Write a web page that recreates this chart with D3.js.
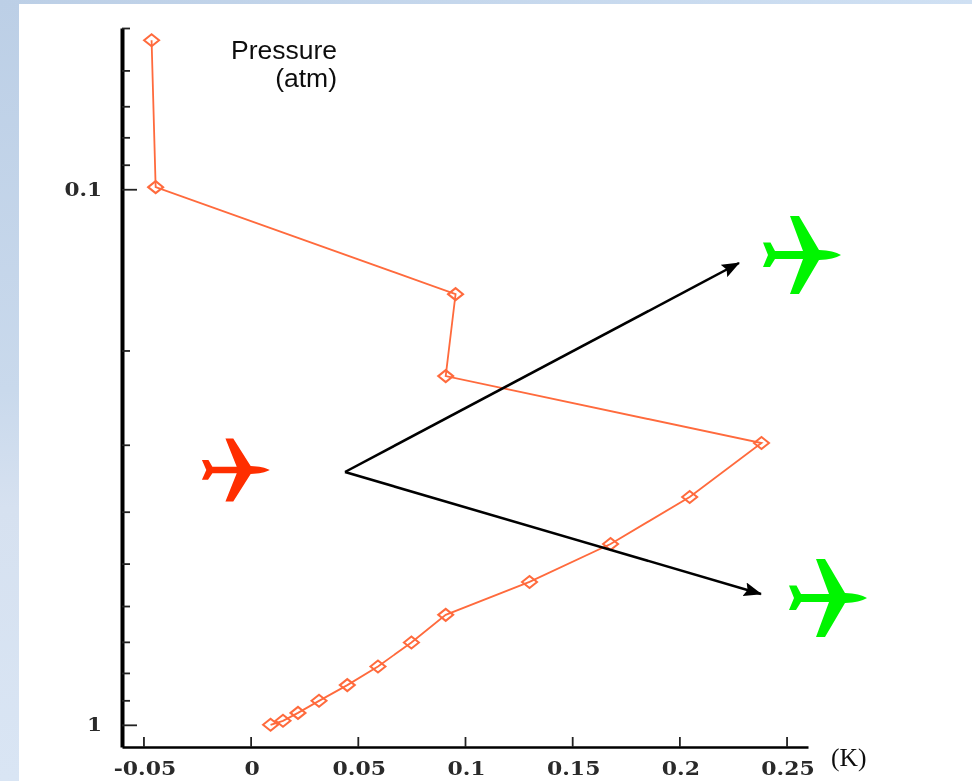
<!DOCTYPE html>
<html>
<head>
<meta charset="utf-8">
<script src="https://cdnjs.cloudflare.com/ajax/libs/d3/7.8.5/d3.min.js"></script>
<style>
  html, body { margin: 0; padding: 0; background: #fff; overflow: hidden; }
  svg { display: block; }
</style>
</head>
<body>
<script>
// temperature difference (K) against pressure (atm)
const temperature = [-0.0462, -0.0443, 0.0956, 0.091, 0.2383, 0.2048, 0.1679, 0.1301, 0.091, 0.075, 0.0594, 0.0451, 0.0319, 0.0221, 0.0151, 0.0093]
const pressure = [0.0527, 0.0991, 0.157, 0.2233, 0.2978, 0.3755, 0.4596, 0.541, 0.6233, 0.702, 0.778, 0.843, 0.902, 0.95, 0.983, 1]

const xTicks = [-0.05, 0, 0.05, 0.1, 0.15, 0.2, 0.25]
const xTickLabels = ["-0.05", "0", "0.05", "0.1", "0.15", "0.2", "0.25"]
const yTicks = [0.05, 0.06, 0.07, 0.08, 0.09, 0.1, 0.2, 0.3, 0.4, 0.5, 0.6, 0.7, 0.8, 0.9, 1]
const yLabels = new Map([[0.1, "0.1"], [1, "1"]])

const width = 972, height = 781
const orange = "#ff6a3c"

const svg = d3.select("body").append("svg")
    .attr("width", width)
    .attr("height", height)

const defs = svg.append("defs")

// slide background, blue fading down the left edge
const bg = defs.append("linearGradient").attr("id", "bg")
    .attr("x1", 0).attr("y1", 0).attr("x2", 0).attr("y2", 1)
bg.append("stop").attr("offset", 0).attr("stop-color", "#bccfe6")
bg.append("stop").attr("offset", 0.5).attr("stop-color", "#c9d9ec")
bg.append("stop").attr("offset", 0.65).attr("stop-color", "#d6e1f0")
bg.append("stop").attr("offset", 1).attr("stop-color", "#d9e5f4")

const topBand = defs.append("linearGradient").attr("id", "topBand")
topBand.append("stop").attr("offset", 0).attr("stop-color", "#bccfe6")
topBand.append("stop").attr("offset", 1).attr("stop-color", "#cfe0f3")

defs.append("filter").attr("id", "soft")
    .append("feGaussianBlur").attr("stdDeviation", 0.7)

defs.append("marker")
    .attr("id", "head")
    .attr("viewBox", "0 0 18 14")
    .attr("refX", 17).attr("refY", 7)
    .attr("markerWidth", 18).attr("markerHeight", 14)
    .attr("markerUnits", "userSpaceOnUse")
    .attr("orient", "auto")
    .append("path")
    .attr("d", "M0,0L18,7L0,14L3,7Z")
    .attr("fill", "#000")

svg.append("rect").attr("width", 19).attr("height", height).attr("fill", "url(#bg)")
svg.append("rect").attr("width", width).attr("height", 4).attr("fill", "url(#topBand)")

const chart = svg.append("g").attr("filter", "url(#soft)")

const x = d3.scaleLinear().domain([-0.06, 0.26]).range([122, 808])
const y = d3.scaleLog().domain([0.05, 1.1]).range([28, 747])

// Axes
const xAxis = chart.append("g")
    .attr("transform", `translate(0,${y(1.1)})`)
    .call(d3.axisBottom(x).tickValues(xTicks).tickFormat((d, i) => xTickLabels[i]).tickSize(-10).tickPadding(15).tickSizeOuter(0))

xAxis.select(".domain").attr("stroke", "#000").attr("stroke-width", 2.4)
xAxis.selectAll(".tick line").attr("stroke", "#222").attr("stroke-width", 1.8)
xAxis.selectAll("text")
    .attr("font-family", "'DejaVu Serif', serif")
    .attr("font-weight", "bold")
    .attr("font-size", 18)
    .attr("fill", "#2a2a2a")
    .attr("transform", "translate(1,0) scale(1.22,1)")

const yAxis = chart.append("g")
    .attr("transform", `translate(${x(-0.06)},0)`)
    .call(d3.axisLeft(y).tickValues(yTicks).tickFormat(d => yLabels.get(d) || "").tickSize(0).tickPadding(16.7))

yAxis.select(".domain").attr("stroke", "#000").attr("stroke-width", 4)
yAxis.selectAll(".tick line")
    .attr("x2", d => yLabels.has(d) ? 15 : 8)
    .attr("stroke", "#222")
    .attr("stroke-width", 1.8)
yAxis.selectAll("text")
    .attr("font-family", "'DejaVu Serif', serif")
    .attr("font-weight", "bold")
    .attr("font-size", 18)
    .attr("fill", "#2a2a2a")
    .attr("transform", "scale(1.2,1)")

// Profile
const line = d3.line()
    .x(d => x(d[0]))
    .y(d => y(d[1]))

const profile = d3.zip(temperature, pressure)

chart.append("path")
    .datum(profile)
    .attr("d", line)
    .attr("fill", "none")
    .attr("stroke", orange)
    .attr("stroke-width", 1.8)

chart.selectAll(".pt")
    .data(profile)
    .join("path")
    .attr("class", "pt")
    .attr("d", "M-7.5,0L0,-6L7.5,0L0,6Z")
    .attr("transform", d => `translate(${x(d[0])},${y(d[1])})`)
    .attr("fill", "none")
    .attr("stroke", orange)
    .attr("stroke-width", 2)

// Titles
const title = chart.append("text")
    .attr("text-anchor", "end")
    .attr("font-family", "'Liberation Sans', Arial, sans-serif")
    .attr("font-size", 26.5)
    .attr("fill", "#111")
title.append("tspan").attr("x", 337).attr("y", 59).text("Pressure")
title.append("tspan").attr("x", 337).attr("y", 87).text("(atm)")

chart.append("text")
    .attr("x", 831)
    .attr("y", 766)
    .attr("font-family", "'Liberation Serif', 'Times New Roman', serif")
    .attr("font-size", 25.5)
    .attr("fill", "#111")
    .text("(K)")

// Arrows from the flight level to the two other aircraft
const arrowStart = [345, 472]
const arrowEnds = [[739, 263], [761, 594]]

chart.selectAll(".arrow")
    .data(arrowEnds)
    .join("line")
    .attr("class", "arrow")
    .attr("x1", arrowStart[0])
    .attr("y1", arrowStart[1])
    .attr("x2", d => d[0])
    .attr("y2", d => d[1])
    .attr("stroke", "#000")
    .attr("stroke-width", 2.5)
    .attr("marker-end", "url(#head)")

// Aircraft: nose on the right, origin on the fuselage under the wings
const planePath = "M40,0C35,-3 28,-4.5 18,-5L-2,-39L-11,-39L2,-4L-26,-4L-30.5,-12.5L-38,-12.5L-33,0L-38,12L-31,12L-26,4L2,4L-11,39L-2,39L18,5C28,4.5 35,3 40,0Z"

const planes = [
    { px: 235, py: 470, sx: 0.87, sy: 0.81, color: "#ff2e00" },
    { px: 801, py: 255, sx: 1, sy: 1, color: "#00f500" },
    { px: 827, py: 598, sx: 1, sy: 1, color: "#00f500" }
]

chart.selectAll(".plane")
    .data(planes)
    .join("path")
    .attr("class", "plane")
    .attr("d", planePath)
    .attr("transform", d => `translate(${d.px},${d.py}) scale(${d.sx},${d.sy})`)
    .attr("fill", d => d.color)
</script>
</body>
</html>
